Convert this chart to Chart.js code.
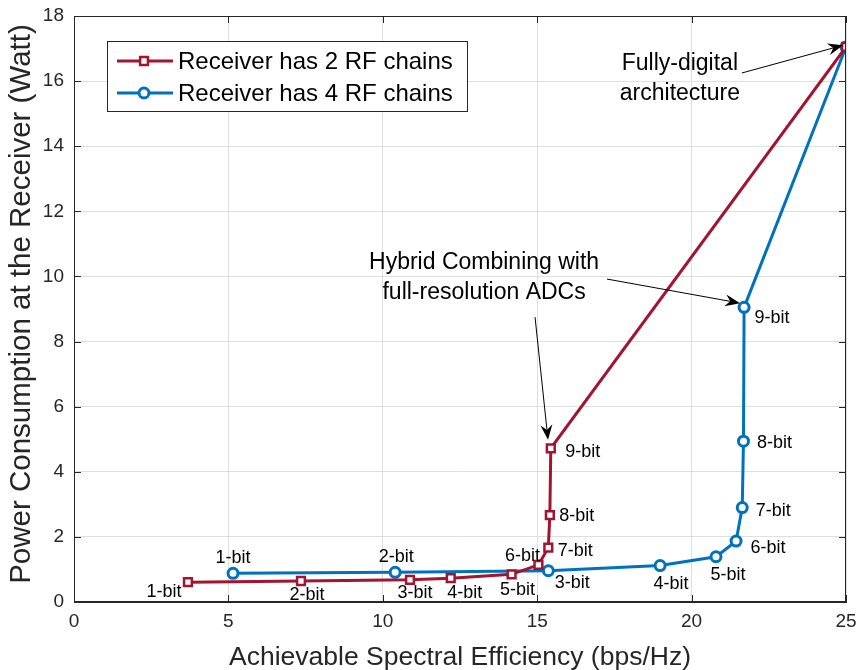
<!DOCTYPE html>
<html>
<head>
<meta charset="utf-8">
<script src="https://cdn.jsdelivr.net/npm/chart.js@4.4.1/dist/chart.umd.min.js"></script>
<style>
  body { margin: 0; background: #fff; }
  #wrap { width: 862px; height: 670px; }
</style>
</head>
<body>
<div id="wrap"><canvas id="myChart" width="862" height="670"></canvas></div>
<script>
// data
var bitLabels = ['1-bit', '2-bit', '3-bit', '4-bit', '5-bit', '6-bit', '7-bit', '8-bit', '9-bit'];
var se2RF = [3.69, 7.35, 10.88, 12.2, 14.17, 15.04, 15.36, 15.41, 15.44, 25];
var pw2RF = [0.61, 0.645, 0.68, 0.73, 0.85, 1.14, 1.67, 2.67, 4.72, 17.05];
var se4RF = [5.15, 10.4, 15.36, 18.98, 20.79, 21.44, 21.64, 21.68, 21.7, 25];
var pw4RF = [0.88, 0.91, 0.96, 1.12, 1.39, 1.87, 2.9, 4.94, 9.05, 17.05];
var seTicks = [0, 5, 10, 15, 20, 25];
var pwTicks = [0, 2, 4, 6, 8, 10, 12, 14, 16, 18];
var yTitle = 'Power Consumption at the Receiver (Watt)';

var RED = '#A2142F';
var BLUE = '#0072BD';
var FONT = '"Liberation Sans", Arial, Helvetica, sans-serif';

// pixel offsets of the "n-bit" labels relative to their marker
var lblOff2 = [[-24, 10], [6, 14], [5, 13], [14, 15], [6, 16], [-16, -9], [27, 3], [27, 1], [32, 4]];
var lblOff4 = [[0, -15], [1, -15], [24, 12], [11, 18], [12, 18], [32, 7], [31, 3], [31, 2], [28, 11]];

function toPoints(xs, ys) {
    return xs.map(function(x, i) { return { x: x, y: ys[i] }; });
}

function arrow(ctx, x1, y1, x2, y2) {
    var a = Math.atan2(y2 - y1, x2 - x1);
    var len = 15, half = 6, back = 10;
    var bx = x2 - len * Math.cos(a), by = y2 - len * Math.sin(a);
    ctx.beginPath();
    ctx.moveTo(x1, y1);
    ctx.lineTo(x2 - back * Math.cos(a), y2 - back * Math.sin(a));
    ctx.stroke();
    ctx.beginPath();
    ctx.moveTo(x2, y2);
    ctx.lineTo(bx - half * Math.sin(a), by + half * Math.cos(a));
    ctx.lineTo(x2 - back * Math.cos(a), y2 - back * Math.sin(a));
    ctx.lineTo(bx + half * Math.sin(a), by - half * Math.cos(a));
    ctx.closePath();
    ctx.fill();
}

var extrasPlugin = {
    id: 'extras',
    afterDraw: function(chart) {
        var ctx = chart.ctx;
        var xs = chart.scales.x, ys = chart.scales.y;
        var area = chart.chartArea;
        ctx.save();

        // box + inward ticks
        ctx.strokeStyle = '#262626';
        ctx.lineWidth = 1;
        ctx.strokeRect(area.left + 0.5, area.top + 0.5, area.right - area.left - 1, area.bottom - area.top - 1);
        ctx.beginPath();
        seTicks.forEach(function(t) {
            var px = Math.round(xs.getPixelForValue(t)) + 0.5;
            ctx.moveTo(px, area.bottom); ctx.lineTo(px, area.bottom - 7);
            ctx.moveTo(px, area.top); ctx.lineTo(px, area.top + 7);
        });
        pwTicks.forEach(function(t) {
            var py = Math.round(ys.getPixelForValue(t)) + 0.5;
            ctx.moveTo(area.left, py); ctx.lineTo(area.left + 7, py);
            ctx.moveTo(area.right, py); ctx.lineTo(area.right - 7, py);
        });
        ctx.stroke();

        // y axis title
        ctx.fillStyle = '#262626';
        ctx.font = '29.5px ' + FONT;
        ctx.textAlign = 'center';
        ctx.textBaseline = 'middle';
        ctx.save();
        ctx.translate(22, 304);
        ctx.rotate(-Math.PI / 2);
        ctx.fillText(yTitle, 0, 0);
        ctx.restore();

        // bit labels
        ctx.fillStyle = '#000';
        ctx.font = '18px ' + FONT;
        bitLabels.forEach(function(l, i) {
            ctx.fillText(l, xs.getPixelForValue(se2RF[i]) + lblOff2[i][0], ys.getPixelForValue(pw2RF[i]) + lblOff2[i][1]);
            ctx.fillText(l, xs.getPixelForValue(se4RF[i]) + lblOff4[i][0], ys.getPixelForValue(pw4RF[i]) + lblOff4[i][1]);
        });

        // annotations
        ctx.font = '23px ' + FONT;
        ctx.fillText('Fully-digital', xs.getPixelForValue(19.62), ys.getPixelForValue(16.55));
        ctx.fillText('architecture', xs.getPixelForValue(19.62), ys.getPixelForValue(15.63));
        ctx.fillText('Hybrid Combining with', xs.getPixelForValue(13.28), ys.getPixelForValue(10.41));
        ctx.fillText('full-resolution ADCs', xs.getPixelForValue(13.28), ys.getPixelForValue(9.49));
        ctx.strokeStyle = '#000';
        ctx.fillStyle = '#000';
        ctx.lineWidth = 1;
        arrow(ctx, xs.getPixelForValue(21.63), ys.getPixelForValue(16.25), xs.getPixelForValue(24.9), ys.getPixelForValue(17.1));
        arrow(ctx, xs.getPixelForValue(14.93), ys.getPixelForValue(8.75), xs.getPixelForValue(15.35), ys.getPixelForValue(4.98));
        arrow(ctx, xs.getPixelForValue(17.26), ys.getPixelForValue(9.92), xs.getPixelForValue(21.57), ys.getPixelForValue(9.18));

        // legend box inside the axes
        var lx = 107, ly = 41, lw = 360, lh = 70;
        ctx.fillStyle = '#fff';
        ctx.fillRect(lx, ly, lw, lh);
        ctx.strokeStyle = '#262626';
        ctx.strokeRect(lx + 0.5, ly + 0.5, lw, lh);
        chart.data.datasets.forEach(function(ds, i) {
            var yy = ly + 20 + i * 32;
            ctx.strokeStyle = ds.borderColor;
            ctx.lineWidth = 3;
            ctx.beginPath();
            ctx.moveTo(lx + 10, yy); ctx.lineTo(lx + 66, yy);
            ctx.stroke();
            ctx.fillStyle = '#fff';
            ctx.lineWidth = ds.pointBorderWidth;
            ctx.beginPath();
            if (ds.pointStyle === 'rect') {
                var s = ds.pointRadius * Math.SQRT1_2;
                ctx.rect(lx + 37 - s, yy - s, 2 * s, 2 * s);
            } else {
                ctx.arc(lx + 37, yy, ds.pointRadius, 0, Math.PI * 2);
            }
            ctx.fill();
            ctx.stroke();
            ctx.fillStyle = '#000';
            ctx.font = '24px ' + FONT;
            ctx.textAlign = 'left';
            ctx.fillText(ds.label, lx + 71, yy + 1);
        });
        ctx.restore();
    }
};

var ctx = document.getElementById('myChart').getContext('2d');
var chart = new Chart(ctx, {
    type: 'scatter',
    data: {
        datasets: [{
            label: 'Receiver has 2 RF chains',
            data: toPoints(se2RF, pw2RF),
            showLine: true,
            borderColor: RED,
            borderWidth: 3,
            pointStyle: 'rect',
            pointRadius: 5.5,
            pointBorderWidth: 2.5,
            pointBackgroundColor: '#fff',
            pointBorderColor: RED
        }, {
            label: 'Receiver has 4 RF chains',
            data: toPoints(se4RF, pw4RF),
            showLine: true,
            borderColor: BLUE,
            borderWidth: 3,
            pointStyle: 'circle',
            pointRadius: 5,
            pointBorderWidth: 3,
            pointBackgroundColor: '#fff',
            pointBorderColor: BLUE
        }]
    },
    options: {
        responsive: false,
        animation: false,
        layout: { padding: { top: 16, right: 16, left: 0, bottom: 0 } },
        plugins: { legend: { display: false }, tooltip: { enabled: false } },
        scales: {
            x: {
                type: 'linear',
                min: 0, max: 25,
                afterBuildTicks: function(s) { s.ticks = seTicks.map(function(v) { return { value: v }; }); },
                afterFit: function(s) { s.height = 68; s.paddingLeft = 0; s.paddingRight = 0; },
                grid: { color: '#dfdfdf', drawTicks: false },
                border: { color: '#262626' },
                ticks: { color: '#262626', font: { family: FONT, size: 19 }, padding: 8, maxRotation: 0 },
                title: { display: true, text: 'Achievable Spectral Efficiency (bps/Hz)', color: '#262626',
                         font: { family: FONT, size: 26.5 }, padding: { top: 0, bottom: -4 } }
            },
            y: {
                type: 'linear',
                min: 0, max: 18,
                afterBuildTicks: function(s) { s.ticks = pwTicks.map(function(v) { return { value: v }; }); },
                afterFit: function(s) { s.width = 74; s.paddingTop = 0; s.paddingBottom = 0; },
                grid: { color: '#dfdfdf', drawTicks: false },
                border: { color: '#262626' },
                ticks: { color: '#262626', font: { family: FONT, size: 19 }, padding: 10 }
            }
        }
    },
    plugins: [extrasPlugin]
});
</script>
</body>
</html>
